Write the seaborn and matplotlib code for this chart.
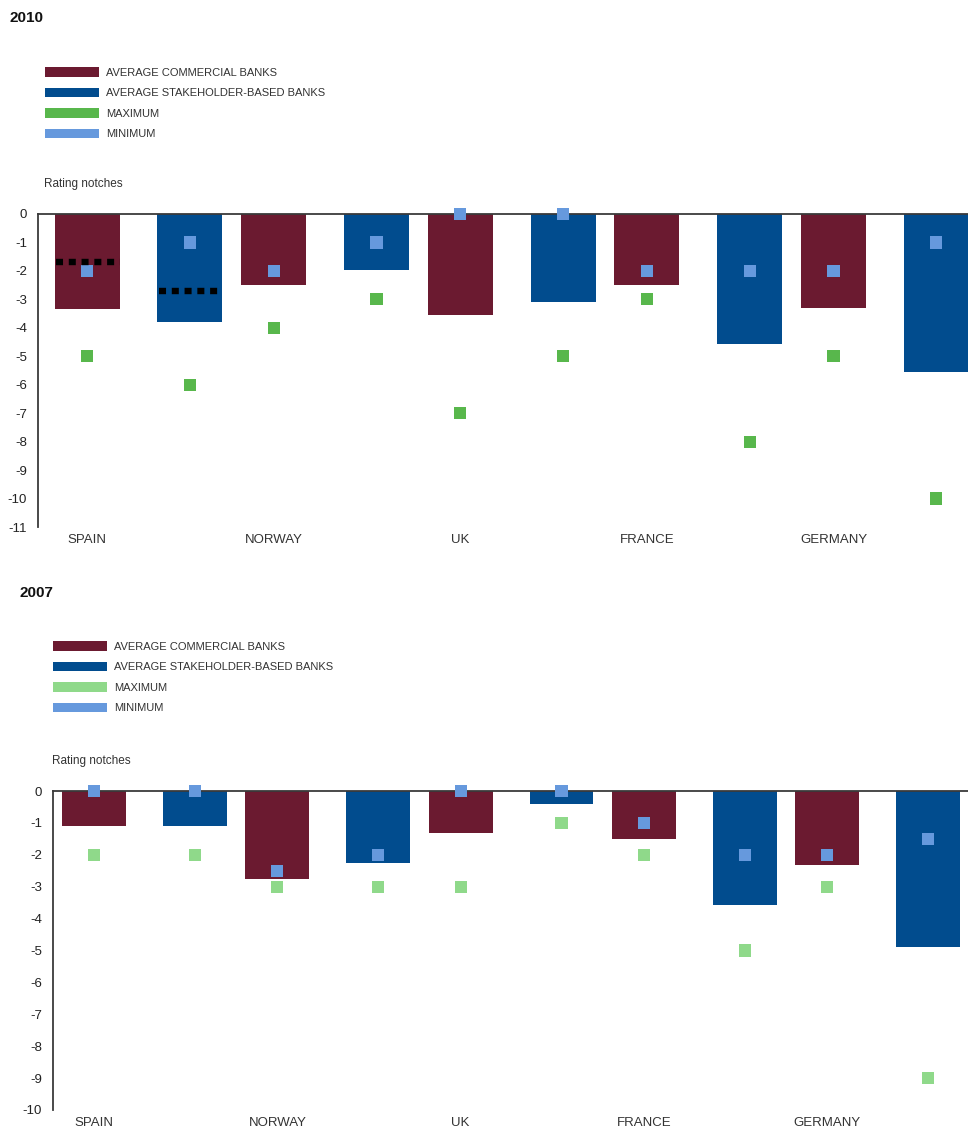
import numpy as np
import pandas as pd
import matplotlib
matplotlib.use("Agg")
import matplotlib.pyplot as plt
from matplotlib.patches import Patch
import seaborn as sns

# ---------------- data ----------------
countries = ["SPAIN", "NORWAY", "UK", "FRANCE", "GERMANY"]
bank_types = ["AVERAGE COMMERCIAL BANKS", "AVERAGE STAKEHOLDER-BASED BANKS"]
marker_labels = ["MAXIMUM", "MINIMUM"]

avg_2010_commercial = [-3.33, -2.49, -3.56, -2.49, -3.32]
avg_2010_stakeholder = [-3.78, -1.98, -3.1, -4.56, -5.54]
max_2010_commercial = [-5, -4, -7, -3, -5]
max_2010_stakeholder = [-6, -3, -5, -8, -10]
min_2010_commercial = [-2, -2, 0, -2, -2]
min_2010_stakeholder = [-1, -1, 0, -2, -1]
benchmark_2010_spain = [-1.68, -2.72]   # dotted lines (commercial, stakeholder)

avg_2007_commercial = [-1.1, -2.76, -1.32, -1.5, -2.33]
avg_2007_stakeholder = [-1.1, -2.25, -0.42, -3.56, -4.88]
max_2007_commercial = [-2, -3, -3, -2, -3]
max_2007_stakeholder = [-2, -3, -1, -5, -9]
min_2007_commercial = [0, -2.5, 0, -1, -2]
min_2007_stakeholder = [0, -2, 0, -2, -1.5]

# ---------------- style ----------------
COL_COMM = "#6b1a30"
COL_STAKE = "#014c8e"
COL_MIN = "#6699dd"
COL_MAX_2010 = "#58b74c"
COL_MAX_2007 = "#8fd98a"
TXT = "#333333"

sns.set_theme(style="white")
plt.rcParams["font.family"] = ["Liberation Sans", "DejaVu Sans"]
plt.rcParams["axes.unicode_minus"] = False

PAIR_OFFSET = 0.55  # stakeholder bar offset within each country group


def build_frame(comm, stake, mx_c, mx_s, mn_c, mn_s):
    rows = []
    for i, c in enumerate(countries):
        rows.append(dict(country=c, type=bank_types[0], pos=i,
                         avg=comm[i], mx=mx_c[i], mn=mn_c[i]))
        rows.append(dict(country=c, type=bank_types[1], pos=i + PAIR_OFFSET,
                         avg=stake[i], mx=mx_s[i], mn=mn_s[i]))
    return pd.DataFrame(rows)


df10 = build_frame(avg_2010_commercial, avg_2010_stakeholder,
                   max_2010_commercial, max_2010_stakeholder,
                   min_2010_commercial, min_2010_stakeholder)
df07 = build_frame(avg_2007_commercial, avg_2007_stakeholder,
                   max_2007_commercial, max_2007_stakeholder,
                   min_2007_commercial, min_2007_stakeholder)

fig = plt.figure(figsize=(9.68, 11.28), dpi=100)
W, H = 968, 1128


def fx(px):
    return px / W


def fy(py):
    return 1 - py / H


def draw_panel(ax, df, max_col, ylow, xlim):
    sns.barplot(data=df, x="pos", y="avg", hue="type", native_scale=True,
                dodge=False, width=0.774, errorbar=None, saturation=1,
                palette={bank_types[0]: COL_COMM, bank_types[1]: COL_STAKE},
                legend=False, ax=ax, zorder=2, linewidth=0)
    sns.scatterplot(data=df, x="pos", y="mx", marker="s", s=78, color=max_col,
                    edgecolor="none", linewidth=0, ax=ax, zorder=4, clip_on=False)
    sns.scatterplot(data=df, x="pos", y="mn", marker="s", s=78, color=COL_MIN,
                    edgecolor="none", linewidth=0, ax=ax, zorder=5, clip_on=False)
    ax.set_ylim(ylow, 0)
    ax.set_xlim(*xlim)
    ax.set_yticks(list(range(0, ylow - 1, -1)))
    ax.set_yticklabels([str(v) for v in range(0, ylow - 1, -1)])
    ax.set_xticks(list(range(len(countries))))
    ax.set_xticklabels(countries)
    ax.set_xlabel("")
    ax.set_ylabel("")
    for s in ["right", "bottom"]:
        ax.spines[s].set_visible(False)
    for s in ["left", "top"]:
        ax.spines[s].set_visible(True)
        ax.spines[s].set_color("#3a3a3a")
        ax.spines[s].set_linewidth(1.3)
        ax.spines[s].set_zorder(3)
    ax.tick_params(axis="y", length=0, pad=8, labelsize=9.5, labelcolor="#222222")
    ax.tick_params(axis="x", length=0, pad=5, labelsize=9.5, labelcolor=TXT)
    ax.set_facecolor("white")


def draw_legend(max_col, x_px, y_px):
    handles = [Patch(facecolor=COL_COMM, edgecolor="none"),
               Patch(facecolor=COL_STAKE, edgecolor="none"),
               Patch(facecolor=max_col, edgecolor="none"),
               Patch(facecolor=COL_MIN, edgecolor="none")]
    labels = bank_types + marker_labels
    leg = fig.legend(handles, labels, loc="upper left",
                     bbox_to_anchor=(fx(x_px), fy(y_px)), frameon=False,
                     fontsize=8, handlelength=4.9, handleheight=0.95,
                     handletextpad=0.6, labelspacing=0.9, borderpad=0,
                     borderaxespad=0)
    for t in leg.get_texts():
        t.set_color(TXT)


# ---------------- 2010 panel ----------------
ax1 = fig.add_axes([fx(38), fy(527), fx(968) - fx(38), fy(214) - fy(527)])
draw_panel(ax1, df10, COL_MAX_2010, -11, (-0.263, 4.72))
bw = 0.774 * 0.45
spain = df10[df10["country"] == "SPAIN"]
for (_, r), b in zip(spain.iterrows(), benchmark_2010_spain):
    ax1.hlines(b, r["pos"] - bw / 2 + 0.01, r["pos"] + bw / 2, colors="black",
               linewidth=4.6, linestyles=(0, (1.1, 0.9)), zorder=6)

fig.text(fx(10), fy(18), "2010", fontsize=11, fontweight="bold",
         color="#111111", va="center", ha="left")
fig.text(fx(44), fy(184), "Rating notches", fontsize=8.5, color=TXT,
         va="center", ha="left")
draw_legend(COL_MAX_2010, 45, 67)

# ---------------- 2007 panel ----------------
ax2 = fig.add_axes([fx(53), fy(1110), fx(968) - fx(53), fy(791) - fy(1110)])
draw_panel(ax2, df07, COL_MAX_2007, -10, (-0.224, 4.768))

fig.text(fx(20), fy(593), "2007", fontsize=11, fontweight="bold",
         color="#111111", va="center", ha="left")
fig.text(fx(52), fy(761), "Rating notches", fontsize=8.5, color=TXT,
         va="center", ha="left")
draw_legend(COL_MAX_2007, 53, 641)

fig.savefig("out.png", dpi=100, facecolor="white")
